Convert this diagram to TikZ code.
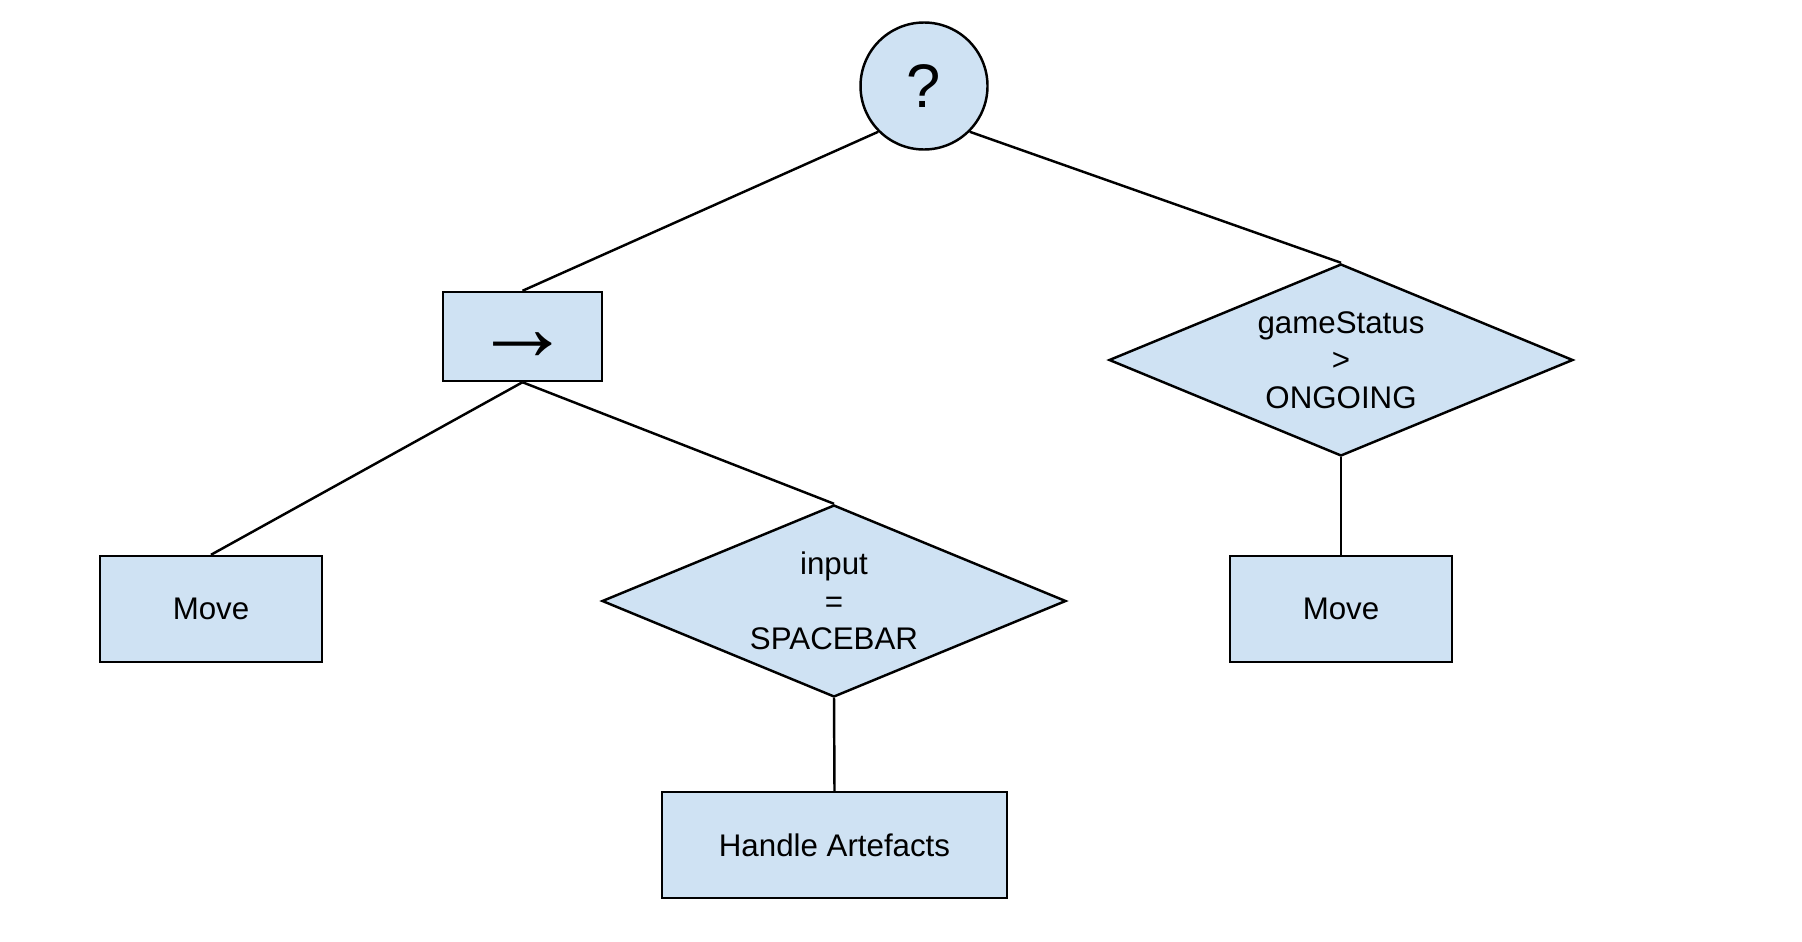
\documentclass[tikz,border=0pt]{standalone}
\usepackage{fontspec}
\setmainfont{Liberation Sans}
\usepackage{tikz}
\usetikzlibrary{shapes.geometric}
\definecolor{nodeblue}{HTML}{CFE2F3}
\tikzset{
	treebox/.style={draw, fill=nodeblue, minimum width=2.22cm, minimum height=1.06cm, inner sep=0pt, font=\fontsize{8.9}{10.6}\selectfont}
}
\tikzset{
	condbox/.style={draw, fill=nodeblue, diamond, shape aspect=2.42, minimum width=4.64cm, minimum height=1.92cm, inner sep=0pt, align=center, font=\fontsize{8.9}{10.6}\selectfont}
}

\begin{document}
\begin{tikzpicture}[line width=0.7pt]
      \useasboundingbox (0,0) rectangle (18.02,-9.41);
      \node[draw, circle, fill=nodeblue, minimum size=1.27cm, inner sep=0pt, font=\fontsize{17.5}{20}\selectfont] (root) at (9.24,-0.86) {?};
      \node[treebox, minimum width=1.59cm, minimum height=0.89cm] (seq) at (5.225,-3.365) {\raisebox{-0.24cm}[0pt][0pt]{\fontsize{28}{32}\selectfont →}};
      \node[condbox] (gamecond) at (13.41,-3.60) {gameStatus\\ >\\ ONGOING};
      \node[treebox] (moveleft) at (2.11,-6.09) {Move};
      \node[condbox] (inputcond) at (8.34,-6.01) {input\\ =\\ SPACEBAR};
      \node[treebox] (moveright) at (13.41,-6.09) {Move};
      \node[treebox, minimum width=3.45cm] (handle) at (8.345,-8.45) {Handle Artefacts};

      \draw (root.225) -- (seq.north);
      \draw (root.-45) -- (gamecond.north);
      \draw (seq.south) -- (moveleft.north);
      \draw (seq.south) -- (inputcond.north);
      % conditions guard their actions
      \draw (inputcond.south) -- (handle.north);
      \draw (gamecond.south) -- (moveright.north);
    \end{tikzpicture}
\end{document}
